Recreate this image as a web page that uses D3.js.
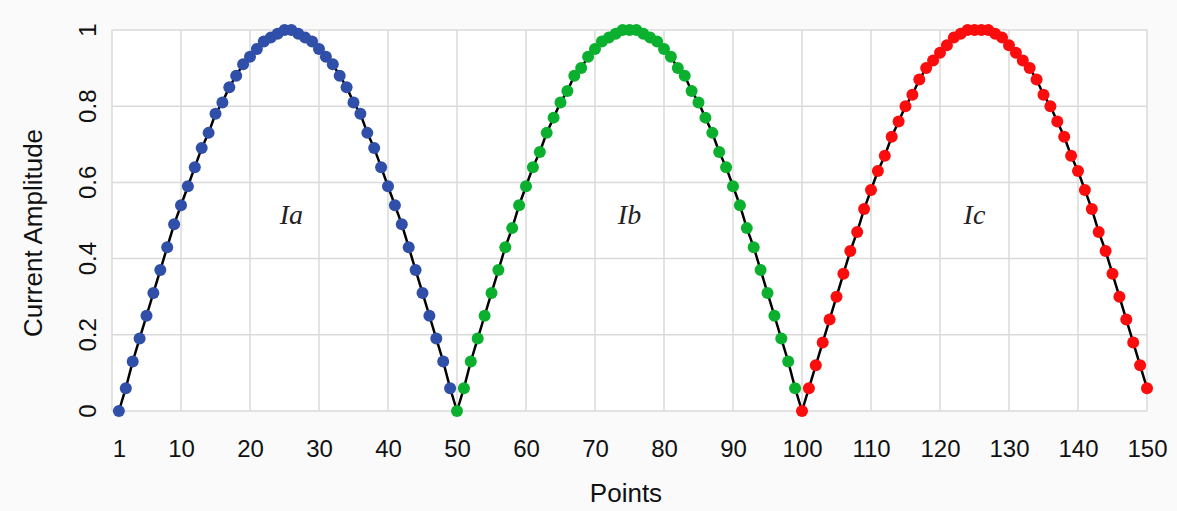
<!DOCTYPE html>
<html>
<head>
<meta charset="utf-8">
<script src="https://cdn.jsdelivr.net/npm/d3@7"></script>
<style>
  body { margin: 0; background: #fafafa; }
  svg { display: block; font-family: "Liberation Sans", Arial, sans-serif; }
</style>
</head>
<body>
<div id="chart"></div>
<script>
// phase a: points 1..49
const phaseA = [0, .06, .13, .19, .25, .31, .37, .43, .49, .54, .59, .64, .69, .73, .78, .81, .85, .88, .91, .93,
  .95, .97, .98, .99, 1.00, 1.00, .99, .98, .97, .95, .93, .91, .88, .85, .81, .78, .73, .69, .64, .59,
  .54, .49, .43, .37, .31, .25, .19, .13, .06];
// phase b: points 50..99
const phaseB = [0, .06, .13, .19, .25, .31, .37, .43, .48, .54, .59, .64, .68, .73, .77, .81, .84, .88, .90, .93,
  .95, .97, .98, .99, 1.00, 1.00, 1.00, .99, .98, .97, .95, .93, .90, .88, .84, .81, .77, .73, .68, .64,
  .59, .54, .48, .43, .37, .31, .25, .19, .13, .06];
// phase c: points 100..150
const phaseC = [0, .06, .12, .18, .24, .30, .36, .42, .47, .53, .58, .63, .67, .72, .76, .80, .83, .87, .90, .92,
  .94, .96, .98, .99, 1.00, 1.00, 1.00, 1.00, .99, .98, .96, .94, .92, .90, .87, .83, .80, .76, .72, .67,
  .63, .58, .53, .47, .42, .36, .30, .24, .18, .12, .06];

const startPoints = [1, 50, 100];
const seriesNames = ["a", "b", "c"];
const seriesColors = ["#2f4fa9", "#0ab02e", "#fb0d0d"];
const labelPos = [[26, 0.49], [75, 0.49], [125, 0.49]];

const xTicks = [1, 10, 20, 30, 40, 50, 60, 70, 80, 90, 100, 110, 120, 130, 140, 150];
const xGrid = [10, 20, 30, 40, 50, 60, 70, 80, 90, 100, 110, 120, 130, 140, 150];
const yTicks = [0, 0.2, 0.4, 0.6, 0.8, 1];

const width = 1177, height = 511;

// build one list of points for every series
const series = [phaseA, phaseB, phaseC].map((vals, s) => vals.map((v, i) => ({
  x: startPoints[s] + i, y: v, s: s
})));
const allPoints = series.flat();

const x = d3.scaleLinear().domain([0, 150]).range([112, 1147]);
const y = d3.scaleLinear().domain([0, 1]).range([411, 30]);

const svg = d3.select("#chart")
  .append("svg")
  .attr("width", width)
  .attr("height", height);

// plot area
svg.append("rect")
  .attr("x", x(0)).attr("y", y(1))
  .attr("width", x(150) - x(0)).attr("height", y(0) - y(1))
  .attr("fill", "#ffffff");

// gridlines
svg.append("g")
  .selectAll("line")
  .data(yTicks)
  .join("line")
  .attr("x1", x(0)).attr("x2", x(150))
  .attr("y1", (d) => y(d)).attr("y2", (d) => y(d))
  .attr("stroke", "#dadada")
  .attr("stroke-width", 1.5);

svg.append("g")
  .selectAll("line")
  .data([0].concat(xGrid))
  .join("line")
  .attr("x1", (d) => x(d)).attr("x2", (d) => x(d))
  .attr("y1", y(1)).attr("y2", y(0))
  .attr("stroke", "#dadada")
  .attr("stroke-width", 1.5);

// x axis labels
const xAxis = svg.append("g")
  .attr("transform", `translate(0,${y(0)})`)
  .call(d3.axisBottom(x).tickValues(xTicks).tickSize(0).tickPadding(29).tickFormat(d3.format("d")));
xAxis.select(".domain").remove();
xAxis.attr("font-size", null).attr("font-family", null);
xAxis.selectAll("text").attr("font-size", 24).attr("fill", "#111");

// y axis labels, rotated like the original
svg.append("g")
  .selectAll("text")
  .data(yTicks)
  .join("text")
  .attr("transform", (d) => `translate(96,${y(d)}) rotate(-90)`)
  .attr("text-anchor", "middle")
  .attr("font-size", 24)
  .attr("fill", "#111")
  .text((d) => d3.format("~g")(d));

// axis titles
svg.append("text")
  .attr("x", 626).attr("y", 502)
  .attr("text-anchor", "middle")
  .attr("font-size", 26)
  .attr("fill", "#111")
  .text("Points");

svg.append("text")
  .attr("transform", `translate(42,233) rotate(-90)`)
  .attr("text-anchor", "middle")
  .attr("font-size", 26)
  .attr("fill", "#111")
  .text("Current Amplitude");

// black line through every point
const line = d3.line().x((d) => x(d.x)).y((d) => y(d.y));
svg.append("path")
  .datum(allPoints)
  .attr("d", line)
  .attr("fill", "none")
  .attr("stroke", "#000")
  .attr("stroke-width", 2.5);

// dots
svg.append("g")
  .selectAll("circle")
  .data(allPoints)
  .join("circle")
  .attr("cx", (d) => x(d.x))
  .attr("cy", (d) => y(d.y))
  .attr("r", 6)
  .attr("fill", (d) => seriesColors[d.s]);

// phase labels Ia, Ib, Ic
const labels = svg.append("g")
  .selectAll("text")
  .data(seriesNames)
  .join("text")
  .attr("x", (d, i) => x(labelPos[i][0]))
  .attr("y", (d, i) => y(labelPos[i][1]))
  .attr("text-anchor", "middle")
  .attr("font-family", "'Liberation Serif', 'DejaVu Serif', serif")
  .attr("font-style", "italic")
  .attr("font-size", 28)
  .attr("fill", "#222");
labels.append("tspan").text("I");
labels.append("tspan").text((d) => d);
</script>
</body>
</html>
